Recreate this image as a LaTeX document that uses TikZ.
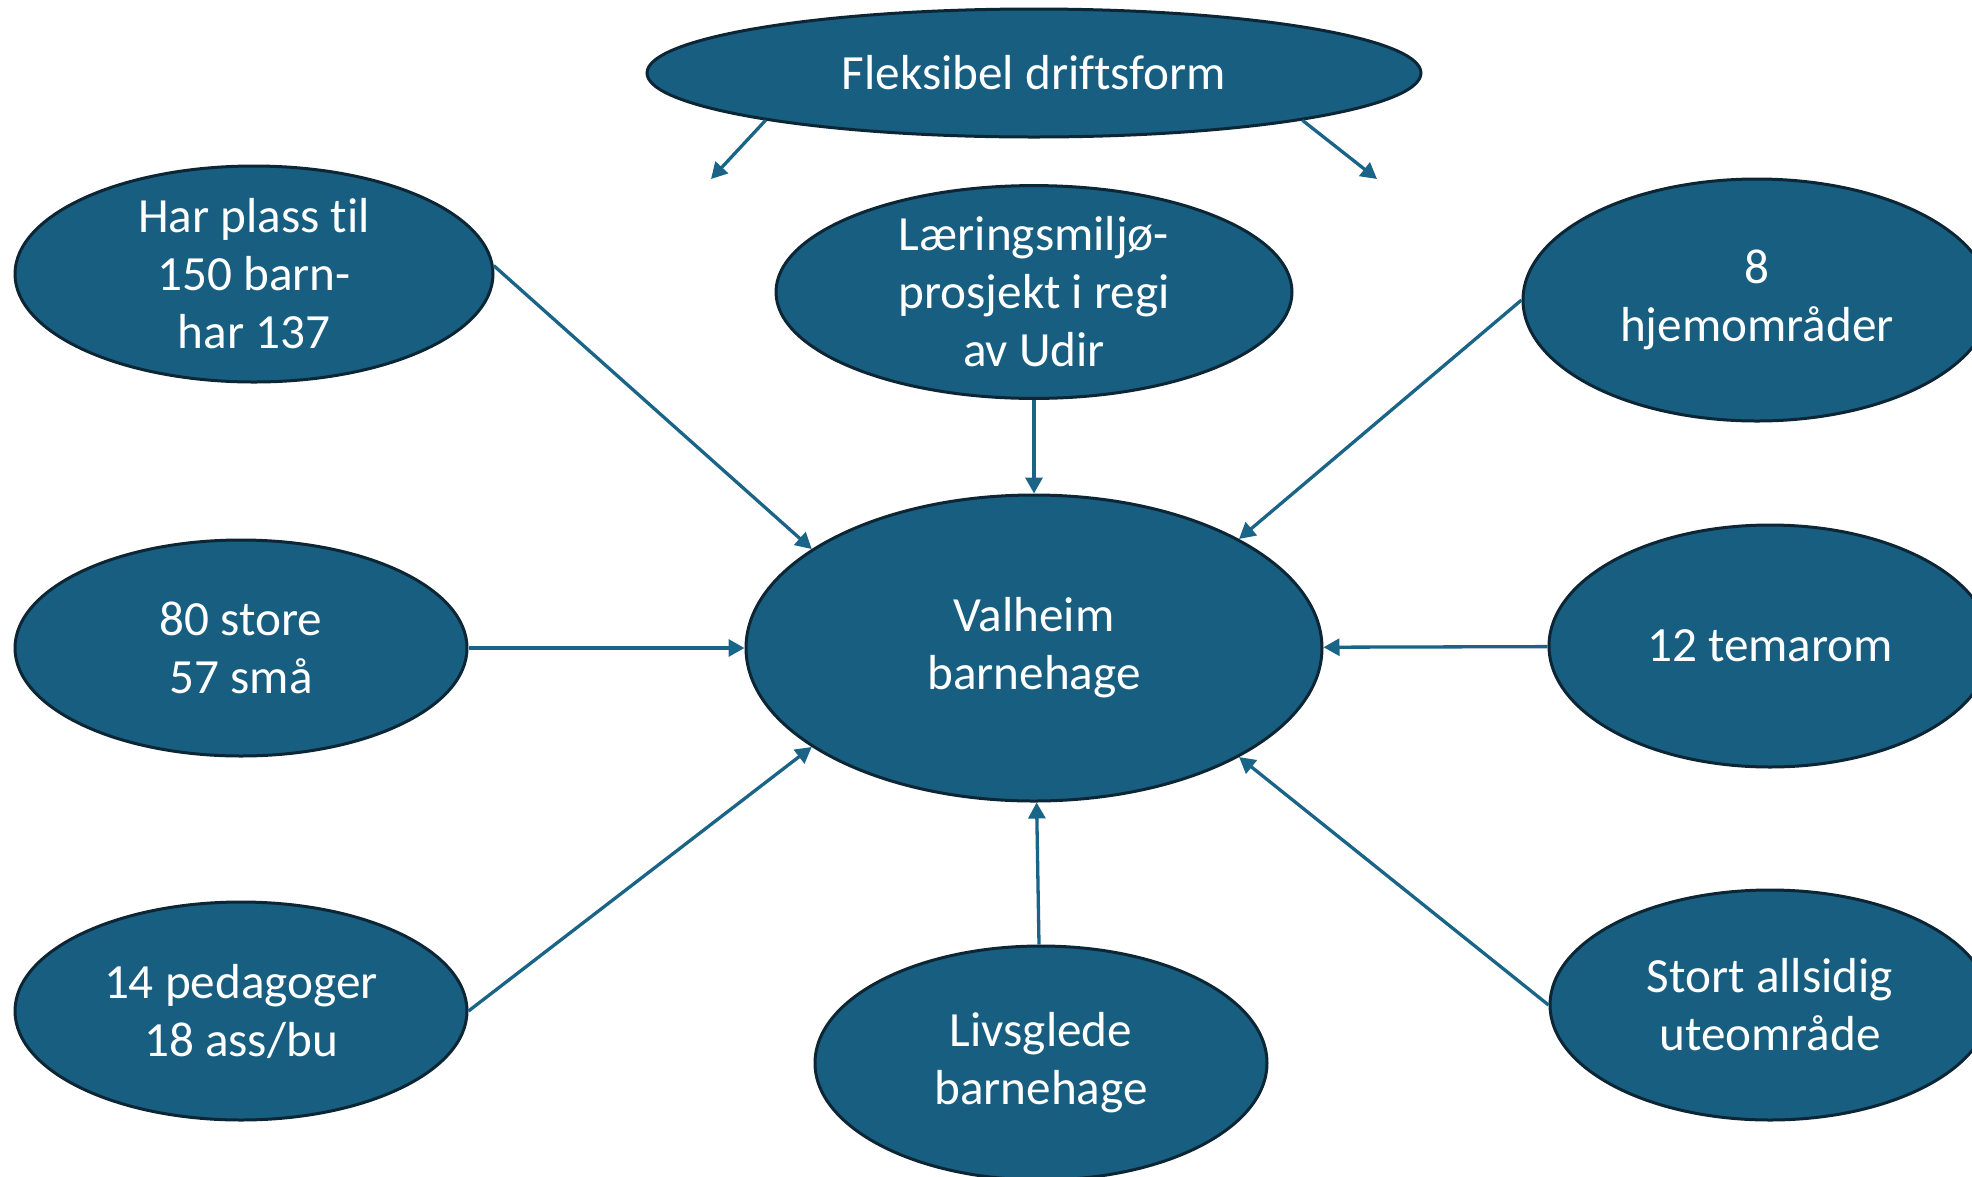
\documentclass[tikz,border=0pt]{standalone}
\usepackage{fontspec}
\setmainfont{Carlito}[Ligatures=NoCommon]
\usetikzlibrary{shapes.geometric, arrows.meta}
\definecolor{bubble}{RGB}{23,94,128}
\definecolor{rim}{RGB}{12,38,54}
\definecolor{link}{RGB}{25,100,135}

\begin{document}
\begin{tikzpicture}[x=0.1mm, y=-0.1mm,
        bub/.style={ellipse, draw=rim, fill=bubble, line width=0.3mm, inner sep=0pt,
            text=white, align=center, font=\fontsize{14}{16.5}\selectfont},
        arr/.style={draw=link, line width=0.33mm, -{Triangle[length=1.6mm,width=1.7mm]}}]
        \useasboundingbox (0,0) rectangle (1972,1176);
        \clip (0,0) rectangle (1972,1176);

        \node (F) [bub, minimum width=77.4mm, minimum height=12.8mm] at (1034,73) {Fleksibel driftsform};
        \node (H) [bub, minimum width=47.8mm, minimum height=21.6mm] at (254,274) {Har plass til\\150 barn-\\har 137};
        \node (L) [bub, minimum width=51.6mm, minimum height=21.2mm] at (1034,292) {Læringsmiljø-\\prosjekt i regi\\av Udir};
        \node (Hj) [bub, minimum width=46.8mm, minimum height=24.2mm] at (1757,300) {8\\hjemområder};
        \node (V) [bub, minimum width=57.6mm, minimum height=30.6mm] at (1034,648) {Valheim\\barnehage};
        \node (S) [bub, minimum width=45.2mm, minimum height=21.6mm] at (241,648) {80 store\\57 små};
        \node (T) [bub, minimum width=44.2mm, minimum height=24.2mm] at (1770,646) {12 temarom};
        \node (P) [bub, minimum width=45.2mm, minimum height=21.8mm] at (241,1011) {14 pedagoger\\18 ass/bu};
        \node (Lv) [bub, minimum width=45.2mm, minimum height=23.4mm] at (1041,1063) {Livsglede\\barnehage};
        \node (U) [bub, minimum width=44mm, minimum height=23mm] at (1770,1005) {Stort allsidig\\uteområde};

        \coordinate (Fl) at (711,179);
        \coordinate (Fr) at (1377,179);

        \draw [arr] (F.190) -- (Fl);
        \draw [arr] (F.350) -- (Fr);
        \draw [arr] (H.2) -- (V.156);
        \draw [arr] (L) -- (V);
        \draw [arr] (Hj.west) -- (V.28);
        \draw [arr] (S) -- (V);
        \draw [arr] (T) -- (V);
        \draw [arr] (P.east) -- (V.204);
        \draw [arr] (Lv) -- (V);
        \draw [arr] (U.west) -- (V.332);
    \end{tikzpicture}
\end{document}
